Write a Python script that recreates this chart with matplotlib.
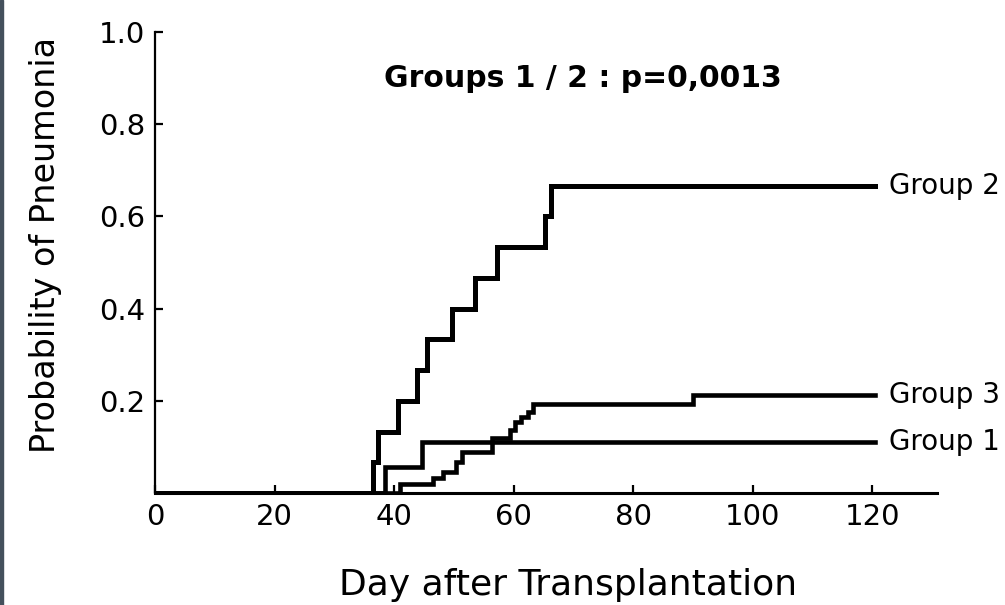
import matplotlib
matplotlib.use("Agg")
import matplotlib.pyplot as plt
from matplotlib.patches import Rectangle

# step data
g2_days = [0, 36.5, 37.3, 40.6, 43.8, 45.5, 49.6, 53.5, 57.2, 65.2, 66.2, 120.5]
g2_prob = [0, 0.067, 0.133, 0.200, 0.267, 0.333, 0.400, 0.467, 0.533, 0.600, 0.667, 0.667]

g1_days = [0, 38.5, 44.6, 120.5]
g1_prob = [0, 0.056, 0.111, 0.111]

g3_days = [0, 41.0, 46.5, 48.2, 50.4, 51.3, 56.3, 59.4, 60.2, 61.3, 62.4, 63.2, 90.0, 120.5]
g3_prob = [0, 0.020, 0.033, 0.045, 0.067, 0.089, 0.120, 0.137, 0.154, 0.165, 0.176, 0.193, 0.213, 0.213]

labels = ["Group 2", "Group 3", "Group 1"]
label_y = [0.667, 0.213, 0.111]

x_ticks = [0, 20, 40, 60, 80, 100, 120]
y_ticks = [0.2, 0.4, 0.6, 0.8, 1.0]

plt.rcParams['font.family'] = ['DejaVu Sans']

fig = plt.figure(figsize=(10.05, 6.05), dpi=100)
ax = fig.add_axes([155 / 1005, 112 / 605, 782 / 1005, 461 / 605])

ax.step(g2_days, g2_prob, where='post', color='black', lw=3.6, solid_joinstyle='miter')
ax.step(g3_days, g3_prob, where='post', color='black', lw=3.3, solid_joinstyle='miter')
ax.step(g1_days, g1_prob, where='post', color='black', lw=3.3, solid_joinstyle='miter')

for lab, yy in zip(labels, label_y):
    ax.text(122.7, yy, lab, fontsize=20, va='center', ha='left', clip_on=False)

ax.text(71.5, 0.90, "Groups 1 / 2 : p=0,0013", fontsize=21.5, fontweight='bold',
        ha='center', va='center')

ax.set_xlim(0, 130.8)
ax.set_ylim(0, 1.0)
ax.set_xticks(x_ticks)
ax.set_xticklabels([str(t) for t in x_ticks])
ax.set_yticks(y_ticks)
ax.set_yticklabels([f"{t:.1f}" for t in y_ticks])
ax.tick_params(direction='in', length=6, width=1.6, labelsize=21, pad=7)

for side in ['top', 'right']:
    ax.spines[side].set_visible(False)
ax.spines['left'].set_linewidth(1.6)
ax.spines['bottom'].set_linewidth(2.2)

ax.set_ylabel("Probability of Pneumonia", fontsize=24)
ax.yaxis.set_label_coords(-0.119, 0.538)
ax.set_xlabel("Day after Transplantation", fontsize=26)
ax.xaxis.set_label_coords(0.528, -0.163)

# dark strip at the left edge of the slide
fig.patches.append(Rectangle((0, 0), 3 / 1005, 1, transform=fig.transFigure,
                             color='#44505c', zorder=10))

fig.savefig("out.png", dpi=100)
